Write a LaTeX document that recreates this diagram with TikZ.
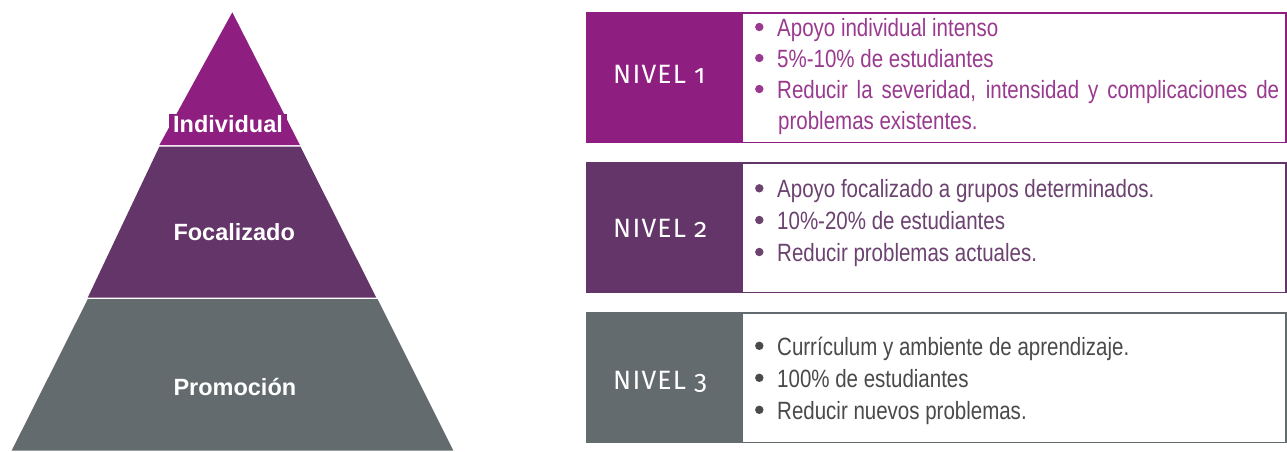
\documentclass[tikz,border=0pt]{standalone}
\usepackage{fontspec}
\setmainfont{Liberation Sans}
\newfontfamily\condfont[FakeStretch=0.82]{Liberation Sans}
\newfontfamily\nivfont[Numbers=OldStyle,LetterSpace=4.5]{Fira Sans}
\definecolor{cPurple}{HTML}{8E1F80}
\definecolor{cPlum}{HTML}{633569}
\definecolor{cGray}{HTML}{646B6E}
\definecolor{tPurple}{HTML}{993A8F}
\definecolor{tPlum}{HTML}{6B4270}
\definecolor{tGray}{HTML}{4A4A4A}
\tikzset{
  pyrtext/.style={anchor=base west, inner sep=0pt, text=white, font=\fontsize{23.5}{28}\selectfont\bfseries},
  nivtext/.style={anchor=base west, inner sep=0pt, text=white, font=\nivfont\fontsize{26.5}{30}\selectfont},
  itemtext/.style={anchor=base west, inner sep=0pt, font=\condfont\fontsize{25}{30}\selectfont},
}
\begin{document}
\begin{tikzpicture}[x=1pt,y=-1pt]
\useasboundingbox (0,0) rectangle (1287,451);
% pyramid
\fill[cPurple] (232.3,12.3) -- (300,145.2) -- (159.3,145.2) -- cycle;
\fill[cPlum] (159.3,146.7) -- (300.5,146.7) -- (376.3,297.7) -- (87.7,297.7) -- cycle;
\fill[cGray] (87.7,299.2) -- (377.7,299.2) -- (453.3,450.5) -- (11.7,450.5) -- cycle;
\node[pyrtext, fill=cPurple, inner xsep=4pt, inner ysep=1.5pt] (pInd) at (169,132.7) {Individual};
\node[pyrtext] (pFoc) at (173.3,240) {Focalizado};
\node[pyrtext] (pPro) at (173.3,395) {Promoción};
% boxes
\fill[cPurple] (586,12) rectangle (1287,143);
\fill[white] (743,14) rectangle (1284.7,141.5);
\fill[cPlum] (586,162) rectangle (1287,293);
\fill[white] (743,164) rectangle (1284.7,291.5);
\fill[cGray] (586,312) rectangle (1287,443);
\fill[white] (743,314) rectangle (1284.7,441.5);
\node[nivtext] (n1) at (613,83.3) {NIVEL 1};
\node[nivtext] (n2) at (613,237.7) {NIVEL 2};
\node[nivtext] (n3) at (613,389.3) {NIVEL 3};
% box 1 items
\foreach \y in {36.5,67.5,98.5} \fill[tPurple] (759.3,\y-9.5) circle (4.2);
\node[itemtext, text=tPurple] (a1) at (777,36.5) {Apoyo individual intenso};
\node[itemtext, text=tPurple] (a2) at (777,67.5) {5\%-10\% de estudiantes};
\node[itemtext, text=tPurple] (a3) at (777,98.5) {\makebox[502pt][s]{Reducir la severidad, intensidad y complicaciones de}};
\node[itemtext, text=tPurple] (a4) at (778,129.5) {problemas existentes.};
% box 2 items
\foreach \y in {197.8,229.5,261.5} \fill[tPlum] (759.3,\y-9.5) circle (4.2);
\node[itemtext, text=tPlum] (b1) at (777,197.8) {Apoyo focalizado a grupos determinados.};
\node[itemtext, text=tPlum] (b2) at (777,229.5) {10\%-20\% de estudiantes};
\node[itemtext, text=tPlum] (b3) at (777,261.5) {Reducir problemas actuales.};
% box 3 items
\foreach \y in {355.3,387.3,419.3} \fill[tGray] (759.3,\y-9.5) circle (4.2);
\node[itemtext, text=tGray] (c1) at (777,355.3) {Currículum y ambiente de aprendizaje.};
\node[itemtext, text=tGray] (c2) at (777,387.3) {100\% de estudiantes};
\node[itemtext, text=tGray] (c3) at (777,419.3) {Reducir nuevos problemas.};
\end{tikzpicture}
\end{document}
